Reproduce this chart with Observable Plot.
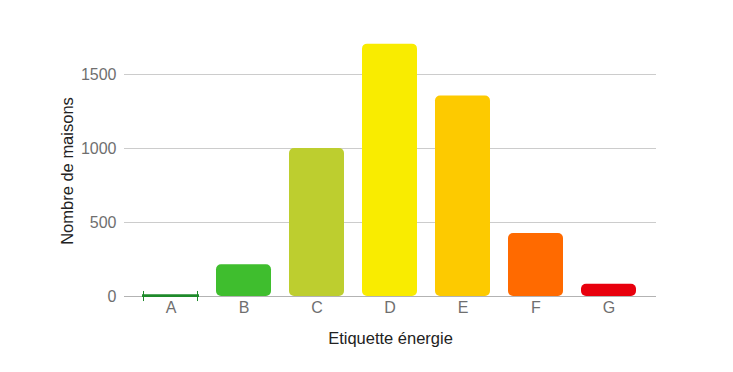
<!DOCTYPE html>
<html>
<head>
<meta charset="utf-8">
<script src="https://cdn.jsdelivr.net/npm/d3@7"></script>
<script src="https://cdn.jsdelivr.net/npm/@observablehq/plot@0.6"></script>
<style>
  html, body { margin: 0; padding: 0; background: #fff; }
  #chart svg { display: block; }
</style>
</head>
<body>
<div id="chart"></div>
<script>
const categories = ["A", "B", "C", "D", "E", "F", "G"];
const counts = [5, 215, 1000, 1705, 1355, 425, 82];
const colors = ["#1e8a2a", "#3fbe2e", "#bdce2f", "#f9ec00", "#fdca00", "#ff6a00", "#e8000d"];
const yTicks = [0, 500, 1000, 1500];
const xTitle = "Etiquette énergie";
const yTitle = "Nombre de maisons";

const data = categories.map((c, i) => ({cat: c, value: counts[i], color: colors[i]}));
const main = data.filter(d => d.cat !== "A");
const tiny = data.filter(d => d.cat === "A");

const font = "'Liberation Sans', Arial, sans-serif";

const chart = Plot.plot({
  width: 733,
  height: 372,
  marginLeft: 124,
  marginRight: 77,
  marginTop: 37,
  marginBottom: 76,
  style: {fontFamily: font, fontSize: "16px", background: "#fff", overflow: "visible"},
  x: {domain: categories, paddingInner: 0.243, paddingOuter: 0.221, label: null},
  y: {domain: [0, 1750], label: null},
  marks: [
    Plot.ruleY(yTicks.filter(t => t > 0), {stroke: "#cccccc", strokeWidth: 1}),
    Plot.ruleY([0], {stroke: "#b3b3b3", strokeWidth: 1}),
    Plot.axisY({ticks: yTicks, tickFormat: d => String(d), tickSize: 0, tickPadding: 8, fill: "#6f6f6f", fontSize: 16, label: null}),
    Plot.axisX({tickSize: 0, tickPadding: 5, fill: "#6f6f6f", fontSize: 16, label: null}),
    Plot.barY(main, {x: "cat", y: "value", fill: "color", rx: 5}),
    Plot.barY(tiny, {x: "cat", y: "value", fill: "color", stroke: "color", strokeWidth: 2}),
    Plot.barY(tiny, {x: "cat", y1: -34, y2: 34, fill: "color", insetRight: 54}),
    Plot.barY(tiny, {x: "cat", y1: -34, y2: 34, fill: "color", insetLeft: 54}),
    Plot.text([xTitle], {frameAnchor: "bottom", dy: 47, fill: "#222", fontSize: 16.5}),
    Plot.text([yTitle], {frameAnchor: "left", textAnchor: "middle", dx: -57, dy: 4, rotate: -90, fill: "#222", fontSize: 16.5})
  ]
});
document.getElementById("chart").appendChild(chart);
</script>
</body>
</html>
